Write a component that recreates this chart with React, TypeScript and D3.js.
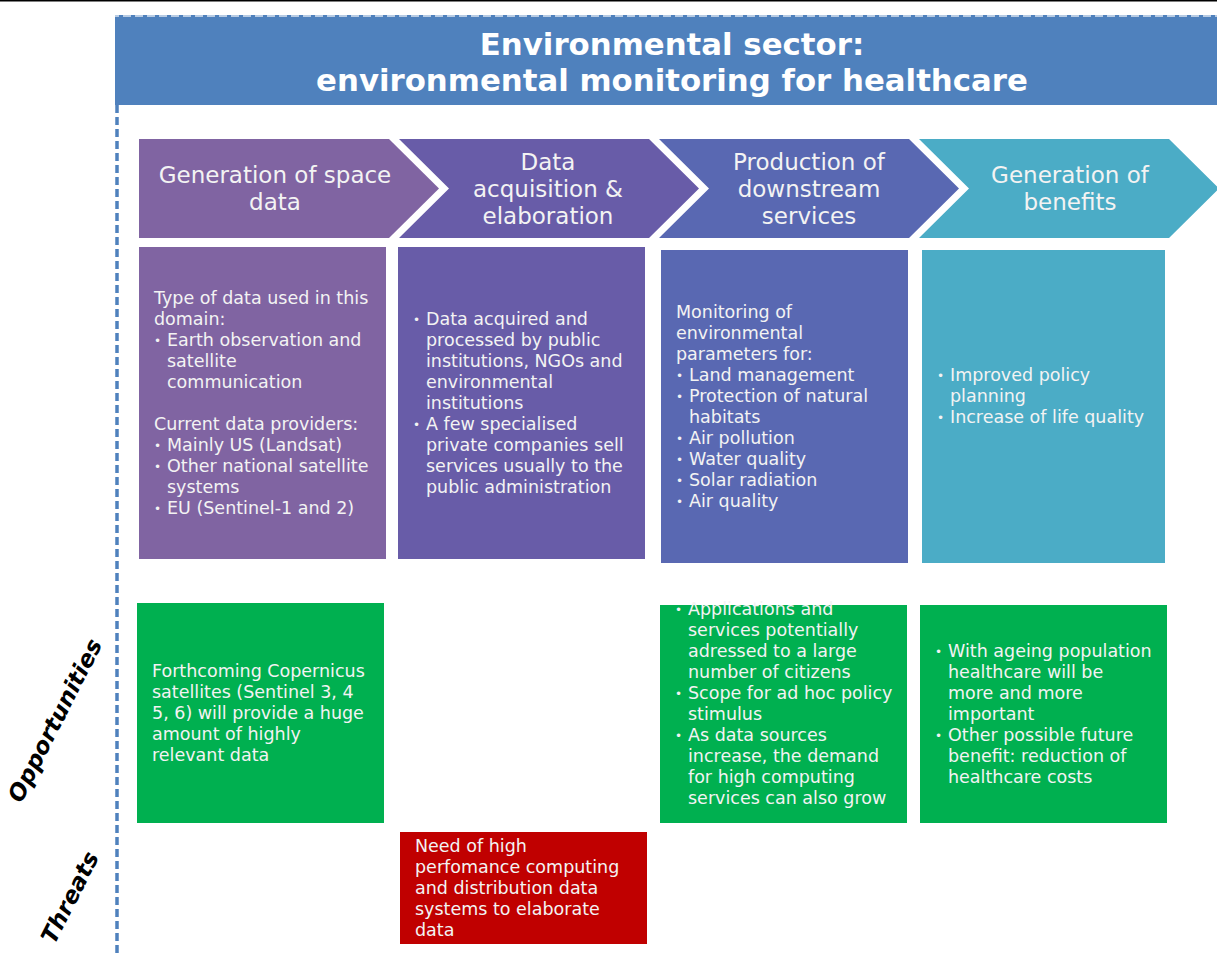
import React from "react";
import * as d3 from "d3";

// ---------- data ----------
const TITLE_LINES = ["Environmental sector:", "environmental monitoring for healthcare"];

const STAGES: string[][] = [
  ["Generation of space", "data"],
  ["Data", "acquisition &", "elaboration"],
  ["Production of", "downstream", "services"],
  ["Generation of", "benefits"],
];

const STAGE_COLORS = ["#8064A2", "#685CA8", "#5968B2", "#4BACC6"];

// line kinds: "• " bullet, "  " continuation of bullet, "" blank, other plain
const DESCRIPTIONS: string[][] = [
  [
    "Type of data used in this",
    "domain:",
    "• Earth  observation and",
    "  satellite",
    "  communication",
    "",
    "Current data providers:",
    "• Mainly US (Landsat)",
    "• Other national satellite",
    "  systems",
    "• EU (Sentinel-1 and 2)",
  ],
  [
    "• Data acquired and",
    "  processed by public",
    "  institutions, NGOs and",
    "  environmental",
    "  institutions",
    "• A few specialised",
    "  private companies sell",
    "  services usually to the",
    "  public administration",
  ],
  [
    "Monitoring of",
    "environmental",
    "parameters for:",
    "• Land management",
    "• Protection of natural",
    "  habitats",
    "• Air pollution",
    "• Water quality",
    "• Solar radiation",
    "• Air quality",
  ],
  ["• Improved policy", "  planning", "• Increase of life quality", ""],
];

const OPPORTUNITIES: (string[] | null)[] = [
  [
    "Forthcoming Copernicus",
    "satellites (Sentinel 3, 4",
    "5, 6) will provide a huge",
    "amount of highly",
    "relevant data",
  ],
  null,
  [
    "• Applications and",
    "  services potentially",
    "  adressed to a large",
    "  number of citizens",
    "• Scope for ad hoc policy",
    "  stimulus",
    "• As data sources",
    "  increase, the demand",
    "  for high computing",
    "  services can also grow",
    "",
  ],
  [
    "• With ageing population",
    "  healthcare will be",
    "  more and more",
    "  important",
    "• Other possible future",
    "  benefit: reduction of",
    "  healthcare costs",
  ],
];

const THREATS: (string[] | null)[] = [
  null,
  [
    "Need of high",
    "perfomance computing",
    "and distribution data",
    "systems to elaborate",
    "data",
  ],
  null,
  null,
];

const ROW_LABELS = ["Opportunities", "Threats"];

// ---------- layout ----------
const W = 1217;
const H = 956;
const FONT = "'DejaVu Sans', Verdana, sans-serif";
const TEXT_FILL = "#F3F3F3";
const LINE_H = 21;
const BODY_FS = 17.5;

const colX = d3.scaleBand<number>().domain([0, 1, 2, 3]).range([139, 1179]).paddingInner(0);
const CHEV = { top: 139, bottom: 238, body: 250, tip: 50 };
const chevTextDx = [136, 149, 150, 151];
type BoxL = { dx: number; y0: number; y1: number; w: number };
const descBox: BoxL[] = [
  { dx: 0, y0: 247, y1: 559, w: 247 },
  { dx: -1, y0: 247, y1: 559, w: 247 },
  { dx: 2, y0: 250, y1: 563, w: 247 },
  { dx: 3, y0: 250, y1: 563, w: 243 },
];
const oppBox: (BoxL | null)[] = [
  { dx: -2, y0: 603, y1: 823, w: 247 },
  null,
  { dx: 1, y0: 605, y1: 823, w: 247 },
  { dx: 1, y0: 605, y1: 823, w: 247 },
];
const threatBox: (BoxL | null)[] = [null, { dx: 1, y0: 832, y1: 944, w: 247 }, null, null];

function chevronPath(i: number) {
  const x0 = colX(i)!;
  const { top, bottom, body, tip } = CHEV;
  const mid = (top + bottom) / 2;
  const p = d3.path();
  p.moveTo(x0, top);
  p.lineTo(x0 + body, top);
  p.lineTo(x0 + body + tip, mid);
  p.lineTo(x0 + body, bottom);
  p.lineTo(x0, bottom);
  if (i > 0) p.lineTo(x0 + tip, mid);
  p.closePath();
  return p.toString();
}

function TextBlock({ lines, x, cy }: { lines: string[]; x: number; cy: number }) {
  const n = lines.length;
  const first = cy - ((n - 1) * LINE_H) / 2;
  return (
    <g fontFamily={FONT} fontSize={BODY_FS} fill={TEXT_FILL} style={{ whiteSpace: "pre" }}>
      {lines.map((ln, k) => {
        const y = first + k * LINE_H + 6;
        if (ln === "") return null;
        if (ln.startsWith("• ")) {
          return (
            <g key={k}>
              <text x={x} y={y - 1} fontSize={12}>•</text>
              <text x={x + 13} y={y}>{ln.slice(2)}</text>
            </g>
          );
        }
        if (ln.startsWith("  ")) {
          return (
            <text key={k} x={x + 13} y={y}>{ln.slice(2)}</text>
          );
        }
        return (
          <text key={k} x={x} y={y}>{ln}</text>
        );
      })}
    </g>
  );
}

function Box({ i, box, fill, lines }: { i: number; box: BoxL; fill: string; lines: string[] }) {
  const x = colX(i)! + box.dx;
  return (
    <g>
      <rect x={x} y={box.y0} width={box.w} height={box.y1 - box.y0} fill={fill} />
      <TextBlock lines={lines} x={x + 15} cy={(box.y0 + box.y1) / 2} />
    </g>
  );
}

export default function App() {
  return (
    <svg
      width={W}
      height={H}
      style={{ position: "absolute", left: 0, top: 0, background: "#fff" }}
    >
      <rect x={0} y={0} width={W} height={H} fill="#fff" />
      {/* top black rule */}
      <rect x={0} y={0} width={W} height={1.5} fill="#000" />

      {/* title */}
      <rect x={115} y={15} width={W - 115} height={90} fill="#4F81BD" />
      <line x1={115} x2={W} y1={16} y2={16} stroke="#fff" strokeWidth={2} strokeDasharray="8 4" strokeDashoffset={-8} opacity={0.6} />
      <g fontFamily={FONT} fontWeight="bold" fontSize={30.8} fill="#fff" textAnchor="middle">
        {TITLE_LINES.map((t, k) => (
          <text key={k} x={672} y={55 + k * 36}>{t}</text>
        ))}
      </g>

      {/* dashed vertical separator */}
      <line x1={117} x2={117} y1={105} y2={H} stroke="#4F81BD" strokeWidth={3.5} strokeDasharray="8 4" />

      {/* chevrons */}
      {STAGES.map((lines, i) => {
        const cx = colX(i)! + chevTextDx[i];
        const mid = (CHEV.top + CHEV.bottom) / 2;
        const first = mid - ((lines.length - 1) * 27) / 2;
        return (
          <g key={i}>
            <path d={chevronPath(i)} fill={STAGE_COLORS[i]} />
            <g fontFamily={FONT} fontSize={23} fill={TEXT_FILL} textAnchor="middle">
              {lines.map((t, k) => (
                <text key={k} x={cx} y={first + k * 27 + 8}>{t}</text>
              ))}
            </g>
          </g>
        );
      })}

      {/* descriptions */}
      {DESCRIPTIONS.map((lines, i) => (
        <Box key={i} i={i} box={descBox[i]} fill={STAGE_COLORS[i]} lines={lines} />
      ))}

      {/* opportunities */}
      {OPPORTUNITIES.map((lines, i) =>
        lines && oppBox[i] ? (
          <Box key={i} i={i} box={oppBox[i]!} fill="#00B050" lines={lines} />
        ) : null
      )}

      {/* threats */}
      {THREATS.map((lines, i) =>
        lines && threatBox[i] ? (
          <Box key={i} i={i} box={threatBox[i]!} fill="#C00000" lines={lines} />
        ) : null
      )}

      {/* row labels */}
      <g fontFamily={FONT} fontWeight="bold" fontStyle="italic" fontSize={23} fill="#000" textAnchor="middle">
        <text transform="translate(62,724) rotate(-63)">{ROW_LABELS[0]}</text>
        <text transform="translate(77,901) rotate(-63)">{ROW_LABELS[1]}</text>
      </g>
    </svg>
  );
}
